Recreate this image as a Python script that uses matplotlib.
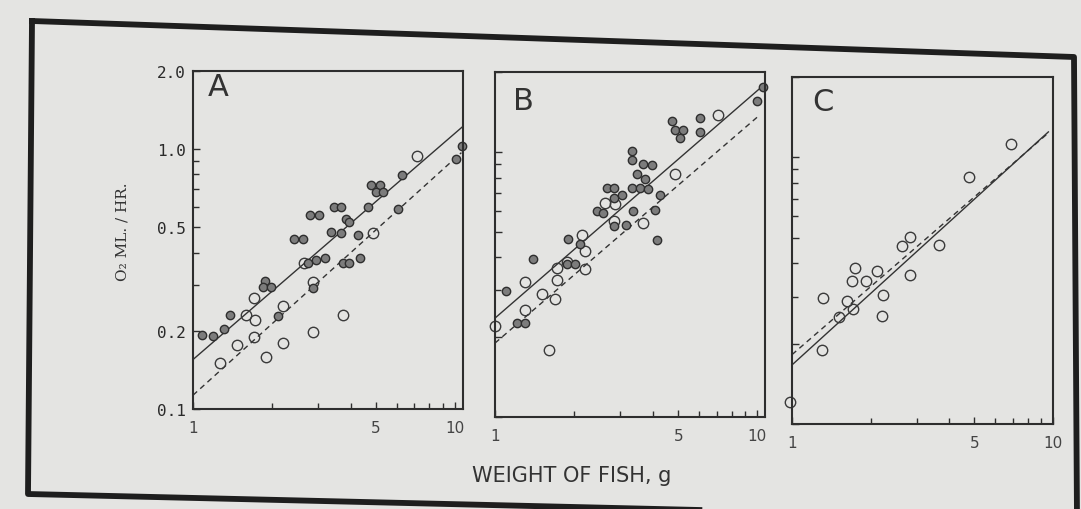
import matplotlib.pyplot as plt
from matplotlib.lines import Line2D
from matplotlib.ticker import FixedLocator, NullFormatter, FixedFormatter

# --- panel A : weight (g) vs O2 ml/hr
a_fill_x = [1.08, 1.19, 1.31, 1.39, 1.88, 1.85, 1.98, 2.12, 2.44, 2.63, 2.79, 3.04,
            3.47, 3.68, 3.37, 3.68, 3.85, 3.96, 4.26, 2.87, 2.75, 2.96, 3.18, 3.74,
            3.96, 4.33, 4.65, 4.79, 5.16, 5.01, 5.31, 6.28, 6.06, 10.1, 10.7]
a_fill_y = [0.193, 0.191, 0.203, 0.231, 0.312, 0.296, 0.296, 0.228, 0.453, 0.453, 0.557, 0.557,
            0.599, 0.599, 0.481, 0.474, 0.541, 0.525, 0.467, 0.292, 0.364, 0.375, 0.380, 0.364,
            0.364, 0.380, 0.599, 0.729, 0.729, 0.683, 0.683, 0.796, 0.590, 0.916, 1.03]
a_open_x = [1.27, 1.47, 1.60, 1.71, 1.72, 1.71, 1.905, 2.21, 2.21, 2.87, 2.87, 2.65, 3.74, 4.86, 7.18]
a_open_y = [0.150, 0.177, 0.231, 0.268, 0.221, 0.189, 0.159, 0.249, 0.179, 0.197, 0.308, 0.364,
            0.231, 0.474, 0.943]
a_solid = ([1.0, 10.7], [0.155, 1.22])
a_dash = ([1.0, 10.6], [0.113, 0.97])

# --- panel B
b_fill_x = [1.10, 1.21, 1.30, 1.39, 1.90, 1.88, 2.02, 2.11, 2.44, 2.59, 2.68, 2.84, 2.83,
            3.04, 2.83, 3.16, 3.37, 3.32, 3.34, 3.47, 3.68, 3.96, 3.32, 3.57, 3.84, 3.73,
            4.07, 4.13, 4.26, 4.71, 4.86, 5.22, 5.07, 6.04, 6.04, 9.94, 10.5]
b_fill_y = [0.298, 0.226, 0.226, 0.393, 0.471, 0.379, 0.379, 0.451, 0.597, 0.590, 0.731, 0.731, 0.670,
            0.686, 0.524, 0.529, 0.597, 1.006, 0.930, 0.828, 0.903, 0.891, 0.731, 0.731, 0.727, 0.793,
            0.602, 0.467, 0.690, 1.306, 1.207, 1.207, 1.123, 1.336, 1.190, 1.558, 1.749]
b_open_x = [1.0, 1.30, 1.30, 1.51, 1.72, 1.72, 1.69, 1.60, 1.88, 2.14, 2.20, 2.20, 2.63,
            2.83, 3.66, 4.86, 7.10, 2.87]
b_open_y = [0.220, 0.323, 0.253, 0.292, 0.365, 0.328, 0.278, 0.1785, 0.385, 0.485, 0.422, 0.363, 0.642,
            0.548, 0.537, 0.828, 1.375, 0.638]
b_solid = ([1.0, 10.2], [0.236, 1.73])
b_dash = ([1.0, 10.2], [0.19, 1.375])

# --- panel C (open circles only)
c_open_x = [0.985, 1.30, 1.31, 1.52, 1.63, 1.72, 1.70, 1.74, 1.92, 2.12, 2.23, 2.22,
            2.63, 2.84, 2.84, 3.66, 4.78, 6.89]
c_open_y = [0.121, 0.190, 0.297, 0.252, 0.288, 0.269, 0.345, 0.385, 0.345, 0.374, 0.304, 0.254,
            0.466, 0.504, 0.363, 0.469, 0.840, 1.117]
c_solid = ([1.0, 9.6], [0.1665, 1.245])
c_dash = ([1.0, 9.6], [0.182, 1.234])

x_ticks = [1, 5, 10]
x_minor = [2, 3, 4, 6, 7, 8, 9]
y_ticks = [0.1, 0.2, 0.5, 1.0, 2.0]
y_labels = ['0.1', '0.2', '0.5', '1.0', '2.0']
y_minor = [0.3, 0.4, 0.6, 0.7, 0.8, 0.9]

bg = '#e4e4e2'
ink = '#2e2e2e'

W, H = 1081, 510
fig = plt.figure(figsize=(W / 100, H / 100), dpi=100)
fig.patch.set_facecolor(bg)

# outer frame of the plate (slightly skewed like the photo)
fx = [32, 1074, 1077, 28, 32]
fy = [22, 58, 520, 495, 22]
fig.add_artist(Line2D([v / W for v in fx], [1 - v / H for v in fy],
                      transform=fig.transFigure, color='#1e1e1e', lw=4.2,
                      solid_joinstyle='round'))

# axes boxes in pixels: left, bottom, width, height
boxes = [(193, 410, 270, 338), (495, 418, 270, 345), (792, 425, 261, 347)]
xmax = [10.75, 10.7, 10.0]
letters = ['A', 'B', 'C']
letter_pos = [(0.093, 0.955), (0.107, 0.916), (0.119, 0.93)]

panels = [
    (a_fill_x, a_fill_y, a_open_x, a_open_y, a_solid, a_dash),
    (b_fill_x, b_fill_y, b_open_x, b_open_y, b_solid, b_dash),
    ([], [], c_open_x, c_open_y, c_solid, c_dash),
]

for i, (l, b, w, h) in enumerate(boxes):
    ax = fig.add_axes([l / W, 1 - b / H, w / W, h / H])
    ax.patch.set_alpha(0)
    ax.set_xscale('log')
    ax.set_yscale('log')
    ax.set_xlim(1, xmax[i])
    ax.set_ylim(0.1, 2.0)

    fx_, fy_, ox, oy, solid, dash = panels[i]
    ax.plot(solid[0], solid[1], color='#333333', lw=1.0)
    ax.plot(dash[0], dash[1], color='#333333', lw=1.0, ls=(0, (4, 3)))
    ax.plot(ox, oy, 'o', ms=7.5, mfc='none', mec='#3a3a3a', mew=1.0, clip_on=False)
    if fx_:
        ax.plot(fx_, fy_, 'o', ms=6, mfc='#7c7c7c', mec=ink, mew=1.0, clip_on=False)

    ax.text(letter_pos[i][0], letter_pos[i][1], letters[i], transform=ax.transAxes,
            fontsize=22, ha='center', va='center', color='#333333')

    for s in ax.spines.values():
        s.set_linewidth(1.5)
        s.set_color(ink)

    ax.xaxis.set_major_locator(FixedLocator(x_ticks))
    ax.xaxis.set_major_formatter(FixedFormatter([str(t) for t in x_ticks]))
    ax.xaxis.set_minor_locator(FixedLocator(x_minor))
    ax.xaxis.set_minor_formatter(NullFormatter())
    ax.yaxis.set_major_locator(FixedLocator(y_ticks))
    ax.yaxis.set_minor_locator(FixedLocator(y_minor))
    ax.yaxis.set_minor_formatter(NullFormatter())
    if i == 0:
        ax.yaxis.set_major_formatter(FixedFormatter(y_labels))
    else:
        ax.yaxis.set_major_formatter(NullFormatter())

    ax.tick_params(which='both', direction='in', width=1.0, color=ink, top=False, right=False)
    ax.tick_params(which='major', length=5)
    ax.tick_params(which='minor', length=4.5)
    ax.tick_params(axis='x', which='major', pad=8, labelsize=11, labelcolor='#444444')
    ax.tick_params(axis='y', which='major', pad=5, labelsize=11.5, labelcolor='#2a2a2a')
    for t in ax.get_yticklabels():
        t.set_family('DejaVu Sans Mono')

fig.text(122 / W, 1 - 232 / H, 'O\u2082 ML. / HR.', rotation=90, ha='center', va='center',
         fontsize=11, family='DejaVu Serif', color='#333333')
fig.text(572 / W, 1 - 476 / H, 'WEIGHT OF FISH, g', ha='center', va='center',
         fontsize=15, color='#333333')

fig.savefig('out.png', dpi=100, facecolor=fig.get_facecolor())
